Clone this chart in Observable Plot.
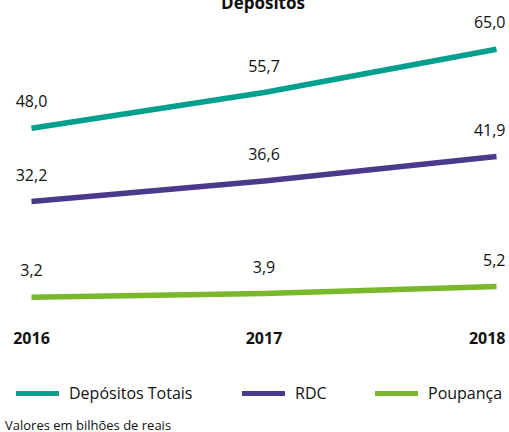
<!DOCTYPE html>
<html>
<head>
<meta charset="utf-8">
<script src="https://cdn.jsdelivr.net/npm/d3@7"></script>
<script src="https://cdn.jsdelivr.net/npm/@observablehq/plot@0.6"></script>
<style>
  html, body { margin: 0; padding: 0; background: #fff; }
  body { font-family: "Open Sans", "Noto Sans", sans-serif; color: #111; }
  #wrap { position: relative; width: 509px; height: 432px; overflow: hidden; }
  #title { position: absolute; left: 0; width: 526px; top: -8px; text-align: center; font-weight: bold; font-size: 17px; line-height: 22px; }
  #chart { position: absolute; left: 0; top: 0; }
  #legend { position: absolute; left: 16px; top: 381px; display: flex; align-items: center; font-size: 16px; line-height: 24px; white-space: nowrap; }
  .item { display: flex; align-items: center; flex: none; }
  .sw { width: 43px; height: 5px; margin-right: 10px; flex: none; }
  #caption { position: absolute; left: 5px; top: 418px; font-size: 13px; line-height: 14px; white-space: nowrap; }
</style>
</head>
<body>
<div id="wrap">
  <div id="chart"></div>
  <div id="title">Depósitos</div>
  <div id="legend"></div>
  <div id="caption">Valores em bilhões de reais</div>
</div>
<script>
const years = [2016, 2017, 2018];
const seriesNames = ["Depósitos Totais", "RDC", "Poupança"];
const depositosTotais = [48.0, 55.7, 65.0];
const rdc = [32.2, 36.6, 41.9];
const poupanca = [3.2, 3.9, 5.2];
const colors = ["#00a08f", "#4b3a8c", "#78b82a"];

const seriesValues = [depositosTotais, rdc, poupanca];
const data = seriesNames.flatMap((s, i) =>
  years.map((y, j) => ({series: s, year: y, value: seriesValues[i][j]}))
);
const fmt = v => d3.format(".1f")(v).replace(".", ",");
const lastYear = years[years.length - 1];

const chart = Plot.plot({
  width: 509,
  height: 352,
  marginTop: 0, marginBottom: 0, marginLeft: 0, marginRight: 0,
  style: {fontFamily: "'Open Sans', 'Noto Sans', sans-serif", background: "transparent"},
  x: {type: "linear", domain: [2016, 2018], range: [31, 496], axis: null},
  y: {type: "linear", domain: [0, 10, 20, 70], range: [313.8, 260.3, 257.6, 25.6], axis: null},
  color: {domain: seriesNames, range: colors},
  marks: [
    Plot.line(data, {x: "year", y: "value", z: "series", stroke: "series", strokeWidth: 5.5, strokeLinecap: "butt"}),
    Plot.text(data.filter(d => d.year !== lastYear), {x: "year", y: "value", text: d => fmt(d.value), dy: -26, fontSize: 16, fill: "#111"}),
    Plot.text(data.filter(d => d.year === lastYear), {x: "year", y: "value", text: d => fmt(d.value), dy: -26, dx: 9, textAnchor: "end", fontSize: 16, fill: "#111"}),
    Plot.text(years.slice(0, 2), {x: d => d, frameAnchor: "bottom", lineAnchor: "middle", dy: -14, text: d => String(d), fontSize: 16, fontWeight: "bold", fill: "#111"}),
    Plot.text(years.slice(2), {x: d => d, frameAnchor: "bottom", lineAnchor: "middle", dy: -14, dx: 9, textAnchor: "end", text: d => String(d), fontSize: 16, fontWeight: "bold", fill: "#111"})
  ]
});
document.getElementById("chart").appendChild(chart);

const legend = document.getElementById("legend");
const itemWidths = ["226px", "133px", "auto"];
seriesNames.forEach((s, i) => {
  const item = document.createElement("div");
  item.className = "item";
  item.style.width = itemWidths[i];
  const sw = document.createElement("span");
  sw.className = "sw";
  sw.style.background = colors[i];
  const lab = document.createElement("span");
  lab.textContent = s;
  item.appendChild(sw);
  item.appendChild(lab);
  legend.appendChild(item);
});
</script>
</body>
</html>
